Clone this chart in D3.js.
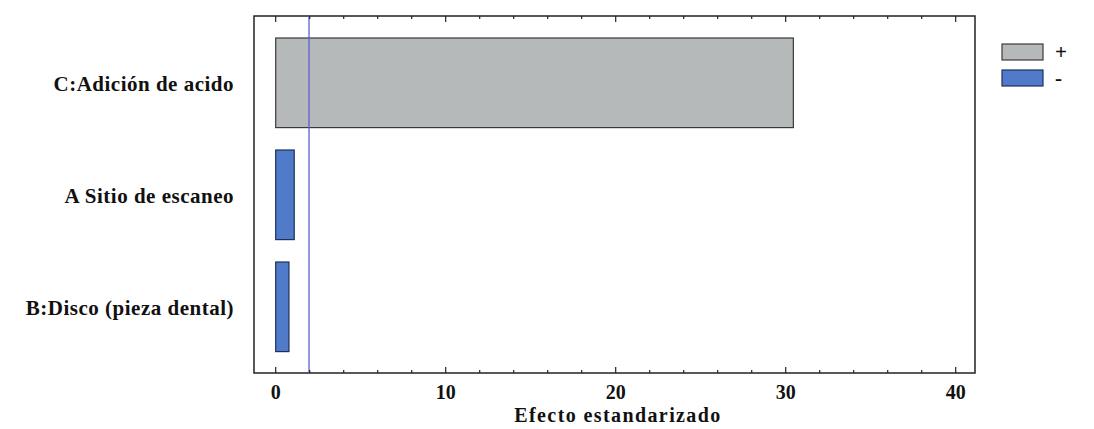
<!DOCTYPE html>
<html>
<head>
<meta charset="utf-8">
<script src="https://cdn.jsdelivr.net/npm/d3@7"></script>
<style>
  html, body { margin: 0; padding: 0; background: #fff; }
  svg { display: block; }
  text { font-family: "Liberation Serif", "Times New Roman", serif; font-weight: bold; fill: #111; }
</style>
</head>
<body>
<svg id="chart" width="1094" height="429"></svg>
<script>
// Standardized Pareto chart of effects
const factors = ["C:Adición de acido", "A Sitio de escaneo", "B:Disco (pieza dental)"];
const effects = [30.45, 1.09, 0.78];
const signs = ["+", "-", "-"];
const criticalValue = 1.96;
const xTicks = [0, 10, 20, 30, 40];
const legendItems = ["+", "-"];

const colors = { "+": "#b6b9b9", "-": "#4f7bc9" };
const strokes = { "+": "#3a3a3a", "-": "#1f2f5c" };

const svg = d3.select("#chart");
const frame = { left: 254, right: 975, top: 16, bottom: 373 };

const x = d3.scaleLinear().domain([0, 40]).range([275.7, 955.7]);
const y = d3.scaleBand().domain(factors).range([26.8, 362.8]).paddingInner(0.2).paddingOuter(0.1);

// frame
svg.append("rect")
  .attr("x", frame.left).attr("y", frame.top)
  .attr("width", frame.right - frame.left).attr("height", frame.bottom - frame.top)
  .attr("fill", "none").attr("stroke", "#222").attr("stroke-width", 1.5);

// bars
svg.append("g").selectAll("rect")
  .data(factors.map((f, i) => ({ f, v: effects[i], s: signs[i] })))
  .join("rect")
  .attr("x", x(0))
  .attr("y", d => y(d.f))
  .attr("width", d => x(d.v) - x(0))
  .attr("height", y.bandwidth())
  .attr("fill", d => colors[d.s])
  .attr("stroke", d => strokes[d.s])
  .attr("stroke-width", 1.2);

// critical value line
svg.append("line")
  .attr("x1", x(criticalValue)).attr("x2", x(criticalValue))
  .attr("y1", frame.top).attr("y2", frame.bottom)
  .attr("stroke", "#5a5fd2").attr("stroke-width", 1.3);

// ticks (inward, top and bottom)
const minor = d3.range(0, 41, 2);
const tickG = svg.append("g").attr("stroke", "#222").attr("stroke-width", 1.2);
minor.forEach(t => {
  const len = t % 10 === 0 ? 6 : 3;
  tickG.append("line").attr("x1", x(t)).attr("x2", x(t)).attr("y1", frame.bottom).attr("y2", frame.bottom - len);
  tickG.append("line").attr("x1", x(t)).attr("x2", x(t)).attr("y1", frame.top).attr("y2", frame.top + len);
});

// x tick labels
svg.append("g").selectAll("text")
  .data(xTicks)
  .join("text")
  .attr("x", d => x(d))
  .attr("y", 399)
  .attr("text-anchor", "middle")
  .attr("font-size", 20)
  .text(d => d);

// x axis title
svg.append("text")
  .attr("x", 618).attr("y", 422)
  .attr("text-anchor", "middle")
  .attr("font-size", 20)
  .attr("letter-spacing", 1.4)
  .text("Efecto estandarizado");

// category labels
svg.append("g").selectAll("text")
  .data(factors)
  .join("text")
  .attr("x", 234)
  .attr("y", d => y(d) + y.bandwidth() / 2 + 8)
  .attr("text-anchor", "end")
  .attr("font-size", 21)
  .attr("letter-spacing", 0.5)
  .text(d => d);

// legend
const lg = svg.append("g");
legendItems.forEach((s, i) => {
  const yy = 44 + i * 26;
  lg.append("rect")
    .attr("x", 1002).attr("y", yy)
    .attr("width", 41).attr("height", 16)
    .attr("fill", colors[s]).attr("stroke", strokes[s]).attr("stroke-width", 1.2);
  lg.append("text")
    .attr("x", 1055).attr("y", yy + 15)
    .attr("font-size", 21)
    .text(s);
});
</script>
</body>
</html>
